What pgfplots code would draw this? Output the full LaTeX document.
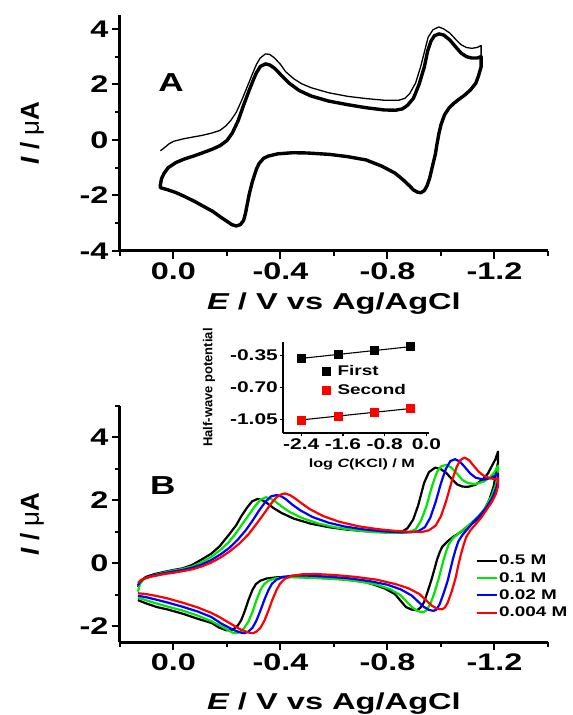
\documentclass[border=0pt]{standalone}
\usepackage{fontspec}
\setmainfont{Liberation Sans}[FakeStretch=1.35]
\newfontfamily\plainsans{Liberation Sans}
\usepackage{graphicx}
\usepackage{pgfplots}
\pgfplotsset{compat=1.18}
\definecolor{cvgreen}{RGB}{0,230,0}
\definecolor{cvblue}{RGB}{0,0,255}
\definecolor{cvred}{RGB}{255,0,0}
\newcommand{\tickfont}{\fontsize{24}{24}\selectfont\bfseries}
\newcommand{\elabel}{\scalebox{1.05}[1]{\fontsize{23}{23}\selectfont\bfseries{\itshape E} / V vs Ag/AgCl}}
\newcommand{\ilabel}{\plainsans\fontsize{26}{26}\selectfont\bfseries{\itshape I} / {\mdseries μ}A}

\pgfplotsset{cvaxis/.style={
  scale only axis, width=428pt, height=236pt,
  x dir=reverse, xmin=-1.4, xmax=0.2,
  axis lines=left, axis line style={-, line width=3pt},
  enlargelimits=false,
  tick align=outside,
  major tick length=8pt, minor tick length=5pt,
  tick style={black, line width=2pt},
  xtick={0,-0.4,-0.8,-1.2}, xticklabels={0.0,-0.4,-0.8,-1.2},
  minor xtick={0.2,-0.2,-0.6,-1,-1.4},
  tick label style={font=\tickfont},
  xlabel={\elabel}, ylabel={\ilabel},
  ylabel style={at={(axis description cs:-0.206,0.5)}, anchor=center, rotate=0},
  line join=round,
}}

\begin{document}
\begin{tikzpicture}
\path[use as bounding box] (0pt,0pt) rectangle (573pt,715pt);

% ---------------- panel A ----------------
\begin{axis}[cvaxis, at={(120pt,464pt)}, anchor=south west,
  ymin=-4, ymax=4.5,
  ytick={-4,-2,0,2,4}, yticklabels={-4,-2,0,2,4},
  minor ytick={-3,-1,1,3},
  xlabel style={at={(axis description cs:0.5,-0.25)}, anchor=base},
]
% later cycles (bold bundle)
\addplot[black, line width=3.4pt] coordinates {
(0.049,-1.62) (0.045,-1.4) (0.035,-1.2) (0.02,-1.0) (-0.01,-0.81) (-0.04,-0.69) (-0.078,-0.57)
(-0.11,-0.46) (-0.146,-0.33) (-0.175,-0.2) (-0.2,-0.02) (-0.22,0.25) (-0.242,0.70) (-0.262,1.25)
(-0.283,1.79) (-0.30,2.2) (-0.31,2.42) (-0.325,2.65) (-0.344,2.74) (-0.36,2.7) (-0.378,2.58)
(-0.40,2.36) (-0.433,2.04) (-0.47,1.78) (-0.515,1.58) (-0.58,1.4) (-0.651,1.27) (-0.72,1.16)
(-0.788,1.08) (-0.83,1.07) (-0.856,1.12) (-0.875,1.25) (-0.897,1.5) (-0.918,2.0) (-0.938,2.64)
(-0.95,3.2) (-0.962,3.55) (-0.975,3.75) (-0.992,3.82) (-1.01,3.78) (-1.033,3.6) (-1.055,3.35)
(-1.075,3.13) (-1.095,3.0) (-1.115,2.95) (-1.135,2.95) (-1.15,3.0)
(-1.15,2.64) (-1.14,2.3) (-1.13,2.04) (-1.11,1.8) (-1.088,1.61) (-1.065,1.45) (-1.047,1.31)
(-1.03,1.15) (-1.013,0.9) (-1.0,0.55) (-0.992,0.22) (-0.985,-0.15) (-0.979,-0.51) (-0.968,-0.95)
(-0.958,-1.36) (-0.948,-1.65) (-0.938,-1.82) (-0.925,-1.9) (-0.912,-1.88) (-0.897,-1.8)
(-0.883,-1.66) (-0.86,-1.45) (-0.829,-1.2) (-0.78,-0.95) (-0.72,-0.72) (-0.65,-0.6) (-0.583,-0.52)
(-0.5,-0.47) (-0.446,-0.46) (-0.39,-0.5) (-0.355,-0.58) (-0.337,-0.66) (-0.32,-0.85) (-0.31,-1.05)
(-0.295,-1.5) (-0.283,-1.96) (-0.275,-2.35) (-0.269,-2.65) (-0.262,-2.9) (-0.25,-3.05)
(-0.235,-3.1) (-0.218,-3.05) (-0.2,-2.93) (-0.175,-2.77) (-0.146,-2.57) (-0.11,-2.38)
(-0.078,-2.21) (-0.04,-2.03) (-0.01,-1.9) (0.02,-1.8) (0.049,-1.72) (0.049,-1.62)
};
% first scan (thin)
\addplot[black, line width=1.3pt] coordinates {
(0.049,-0.39) (0.03,-0.25) (0.018,-0.15) (0.0,-0.05) (-0.037,0.04) (-0.07,0.1) (-0.105,0.16)
(-0.14,0.24) (-0.173,0.34) (-0.195,0.5) (-0.214,0.70) (-0.235,1.0) (-0.255,1.43) (-0.275,1.9)
(-0.296,2.4) (-0.31,2.72) (-0.324,2.95) (-0.344,3.1) (-0.36,3.08) (-0.378,2.95) (-0.40,2.72)
(-0.419,2.46) (-0.45,2.2) (-0.48,2.02) (-0.515,1.88) (-0.58,1.7) (-0.651,1.57) (-0.72,1.49)
(-0.788,1.43) (-0.842,1.43) (-0.865,1.5) (-0.883,1.67) (-0.905,2.05) (-0.924,2.64) (-0.94,3.25)
(-0.952,3.7) (-0.97,3.97) (-0.992,4.07) (-1.01,4.0) (-1.033,3.85) (-1.055,3.62) (-1.075,3.43)
(-1.095,3.33) (-1.115,3.3) (-1.135,3.33) (-1.15,3.4) (-1.15,2.64)
};
\node[font=\fontsize{26}{26}\selectfont\bfseries] at (axis description cs:0.119,0.712) {A};
\end{axis}

% ---------------- panel B ----------------
\begin{axis}[cvaxis, at={(120pt,73pt)}, anchor=south west,
  ymin=-2.5, ymax=5,
  ytick={-2,0,2,4}, yticklabels={-2,0,2,4},
  minor ytick={-1,1,3,5},
  xlabel style={at={(axis description cs:0.5,-0.285)}, anchor=base},
  legend style={at={(axis description cs:0.83,0.375)}, anchor=north west, draw=none, fill=none,
    font=\fontsize{14}{14}\selectfont\bfseries, row sep=3pt, inner sep=0pt,
    nodes={inner sep=1.5pt}},
  legend cell align=left,
  legend image code/.code={\draw[#1] (0pt,0pt) -- (20pt,0pt);},
]
\addplot[black, line width=2.2pt] coordinates {
(0.133,-0.75) (0.12,-0.55) (0.103,-0.43) (0.07,-0.34) (0.034,-0.27) (0.0,-0.21) (-0.034,-0.16)
(-0.07,-0.05) (-0.103,0.11) (-0.14,0.3) (-0.171,0.53) (-0.195,0.78) (-0.212,0.96) (-0.235,1.22)
(-0.253,1.49) (-0.275,1.77) (-0.294,1.97) (-0.315,2.05) (-0.333,2.0) (-0.349,1.92) (-0.375,1.75)
(-0.404,1.6) (-0.45,1.42) (-0.513,1.26) (-0.58,1.15) (-0.65,1.07) (-0.72,1.02) (-0.787,0.99)
(-0.83,0.99) (-0.855,1.01) (-0.875,1.12) (-0.896,1.39) (-0.915,1.85) (-0.937,2.56) (-0.955,2.9)
(-0.978,3.04) (-0.998,3.0) (-1.019,2.88) (-1.04,2.68) (-1.06,2.51) (-1.08,2.44) (-1.101,2.43)
(-1.13,2.5) (-1.156,2.67) (-1.175,2.85) (-1.19,3.09) (-1.203,3.3) (-1.213,3.55)
(-1.213,3.2) (-1.205,2.85) (-1.197,2.45) (-1.18,2.0) (-1.156,1.6) (-1.13,1.35) (-1.101,1.17)
(-1.075,1.0) (-1.047,0.85) (-1.025,0.7) (-1.005,0.53) (-0.995,0.35) (-0.985,0.11) (-0.975,-0.2)
(-0.964,-0.53) (-0.95,-0.9) (-0.937,-1.23) (-0.922,-1.42) (-0.91,-1.49) (-0.89,-1.47)
(-0.869,-1.39) (-0.85,-1.2) (-0.828,-0.98) (-0.79,-0.8) (-0.75,-0.68) (-0.718,-0.6) (-0.65,-0.52)
(-0.581,-0.48) (-0.5,-0.45) (-0.445,-0.43) (-0.39,-0.44) (-0.349,-0.48) (-0.325,-0.55)
(-0.308,-0.66) (-0.295,-0.85) (-0.28,-1.17) (-0.265,-1.55) (-0.253,-1.81) (-0.24,-1.98)
(-0.226,-2.08) (-0.21,-2.13) (-0.198,-2.13) (-0.17,-2.04) (-0.144,-1.9) (-0.09,-1.76)
(-0.034,-1.6) (0.02,-1.47) (0.062,-1.39) (0.1,-1.28) (0.133,-1.17)
};
\addlegendentry{0.5 M}
\addplot[cvgreen, line width=2.2pt] coordinates {
(0.133,-0.9) (0.125,-0.65) (0.11,-0.5) (0.07,-0.37) (0.034,-0.29) (0.0,-0.23) (-0.034,-0.18)
(-0.07,-0.1) (-0.105,0.03) (-0.14,0.2) (-0.175,0.42) (-0.205,0.66) (-0.23,0.92) (-0.255,1.22)
(-0.28,1.52) (-0.305,1.82) (-0.325,2.02) (-0.346,2.1) (-0.365,2.05) (-0.38,1.97) (-0.405,1.8)
(-0.435,1.63) (-0.48,1.44) (-0.54,1.27) (-0.6,1.15) (-0.67,1.06) (-0.74,1.0) (-0.8,0.97)
(-0.855,0.97) (-0.88,0.99) (-0.905,1.08) (-0.925,1.35) (-0.945,1.8) (-0.968,2.5) (-0.985,2.9)
(-1.0,3.08) (-1.019,3.13) (-1.038,3.05) (-1.06,2.85) (-1.08,2.65) (-1.1,2.55) (-1.13,2.52)
(-1.16,2.6) (-1.185,2.75) (-1.2,2.9) (-1.213,3.1)
(-1.213,2.8) (-1.205,2.5) (-1.19,2.15) (-1.165,1.75) (-1.14,1.5) (-1.115,1.3) (-1.09,1.12)
(-1.065,0.95) (-1.045,0.8) (-1.03,0.62) (-1.02,0.4) (-1.01,0.12) (-1.0,-0.2) (-0.99,-0.53)
(-0.975,-0.95) (-0.96,-1.3) (-0.945,-1.5) (-0.933,-1.56) (-0.915,-1.52) (-0.895,-1.42)
(-0.875,-1.25) (-0.85,-1.02) (-0.81,-0.82) (-0.76,-0.68) (-0.7,-0.58) (-0.63,-0.51) (-0.55,-0.47)
(-0.47,-0.44) (-0.42,-0.44) (-0.38,-0.48) (-0.355,-0.55) (-0.338,-0.67) (-0.325,-0.85)
(-0.31,-1.17) (-0.295,-1.55) (-0.28,-1.85) (-0.265,-2.05) (-0.25,-2.17) (-0.235,-2.22)
(-0.22,-2.2) (-0.19,-2.05) (-0.14,-1.83) (-0.09,-1.66) (-0.034,-1.5) (0.02,-1.38) (0.062,-1.28)
(0.1,-1.18) (0.133,-1.09)
};
\addlegendentry{0.1 M}
\addplot[cvblue, line width=2.2pt] coordinates {
(0.133,-0.7) (0.125,-0.58) (0.11,-0.48) (0.07,-0.38) (0.034,-0.31) (0.0,-0.26) (-0.034,-0.21)
(-0.07,-0.14) (-0.105,-0.04) (-0.14,0.1) (-0.175,0.28) (-0.21,0.5) (-0.24,0.75) (-0.27,1.05)
(-0.295,1.35) (-0.32,1.68) (-0.345,1.97) (-0.365,2.13) (-0.387,2.17) (-0.405,2.12) (-0.42,2.04)
(-0.445,1.86) (-0.475,1.68) (-0.52,1.47) (-0.58,1.29) (-0.64,1.17) (-0.71,1.08) (-0.78,1.02)
(-0.84,0.99) (-0.89,0.99) (-0.915,1.02) (-0.94,1.15) (-0.96,1.45) (-0.98,1.95) (-1.0,2.55)
(-1.018,3.0) (-1.035,3.25) (-1.053,3.31) (-1.072,3.22) (-1.09,3.05) (-1.11,2.85) (-1.13,2.72)
(-1.16,2.66) (-1.19,2.72) (-1.213,2.85)
(-1.213,2.6) (-1.205,2.35) (-1.19,2.05) (-1.17,1.78) (-1.145,1.52) (-1.12,1.3) (-1.1,1.1)
(-1.08,0.9) (-1.065,0.7) (-1.055,0.45) (-1.045,0.15) (-1.035,-0.2) (-1.025,-0.55) (-1.01,-0.95)
(-0.995,-1.3) (-0.983,-1.47) (-0.972,-1.51) (-0.955,-1.48) (-0.935,-1.38) (-0.915,-1.22)
(-0.89,-1.02) (-0.85,-0.83) (-0.8,-0.68) (-0.73,-0.56) (-0.65,-0.47) (-0.57,-0.42) (-0.5,-0.39)
(-0.45,-0.39) (-0.41,-0.43) (-0.385,-0.52) (-0.368,-0.65) (-0.355,-0.85) (-0.34,-1.15)
(-0.325,-1.5) (-0.31,-1.82) (-0.295,-2.05) (-0.28,-2.17) (-0.265,-2.22) (-0.25,-2.2)
(-0.22,-2.1) (-0.18,-1.92) (-0.14,-1.7) (-0.09,-1.53) (-0.034,-1.38) (0.02,-1.25) (0.062,-1.16)
(0.1,-1.08) (0.133,-1.03)
};
\addlegendentry{0.02 M}
\addplot[cvred, line width=2.2pt] coordinates {
(0.133,-0.62) (0.12,-0.52) (0.1,-0.45) (0.07,-0.4) (0.034,-0.34) (0.0,-0.3) (-0.034,-0.25)
(-0.07,-0.19) (-0.105,-0.1) (-0.14,0.02) (-0.175,0.18) (-0.21,0.38) (-0.245,0.62) (-0.28,0.92)
(-0.31,1.25) (-0.34,1.6) (-0.365,1.9) (-0.385,2.1) (-0.405,2.2) (-0.417,2.22) (-0.435,2.17)
(-0.455,2.06) (-0.48,1.9) (-0.51,1.72) (-0.56,1.5) (-0.62,1.32) (-0.69,1.18) (-0.76,1.09)
(-0.83,1.03) (-0.89,1.0) (-0.93,1.0) (-0.955,1.05) (-0.98,1.2) (-1.0,1.5) (-1.02,2.0) (-1.04,2.6)
(-1.058,3.05) (-1.072,3.28) (-1.088,3.36) (-1.105,3.28) (-1.12,3.12) (-1.14,2.92) (-1.16,2.78)
(-1.185,2.7) (-1.2,2.68) (-1.213,2.7)
(-1.213,2.45) (-1.205,2.2) (-1.19,1.95) (-1.17,1.7) (-1.15,1.45) (-1.13,1.25) (-1.11,1.05)
(-1.095,0.85) (-1.085,0.6) (-1.075,0.3) (-1.065,-0.05) (-1.055,-0.45) (-1.04,-0.9) (-1.025,-1.25)
(-1.013,-1.42) (-1.003,-1.46) (-0.985,-1.44) (-0.965,-1.34) (-0.945,-1.18) (-0.92,-0.98)
(-0.88,-0.8) (-0.83,-0.66) (-0.76,-0.52) (-0.68,-0.43) (-0.6,-0.37) (-0.53,-0.34) (-0.48,-0.35)
(-0.44,-0.4) (-0.415,-0.5) (-0.398,-0.65) (-0.385,-0.85) (-0.37,-1.15) (-0.355,-1.5) (-0.34,-1.82)
(-0.325,-2.05) (-0.31,-2.17) (-0.298,-2.22) (-0.28,-2.2) (-0.25,-2.1) (-0.21,-1.9) (-0.17,-1.7)
(-0.14,-1.57) (-0.09,-1.4) (-0.034,-1.25) (0.02,-1.12) (0.062,-1.04) (0.1,-0.98) (0.133,-0.95)
};
\addlegendentry{0.004 M}
\node[font=\fontsize{26}{26}\selectfont\bfseries] at (axis description cs:0.1,0.665) {B};
\end{axis}

% ---------------- inset ----------------
\begin{axis}[at={(283pt,282pt)}, anchor=south west,
  scale only axis, width=146pt, height=91pt,
  xmin=-2.75, xmax=0.05, ymin=-1.2, ymax=-0.2,
  axis lines=left, axis line style={-, line width=1.5pt},
  enlargelimits=false, tick align=outside,
  major tick length=3.5pt, tick style={black, line width=1.2pt},
  xtick={-2.4,-1.6,-0.8,0}, xticklabels={-2.4,-1.6,-0.8,0.0},
  ytick={-1.05,-0.7,-0.35}, yticklabels={-1.05,-0.70,-0.35},
  tick label style={font=\fontsize{15.5}{15.5}\selectfont\bfseries, inner sep=1.5pt},
  xlabel={\fontsize{12}{12}\selectfont\bfseries log {\itshape C}(KCl) / M},
  xlabel style={at={(axis description cs:0.54,-0.38)}, anchor=base},
  ylabel={\plainsans\fontsize{13}{13}\selectfont\bfseries Half-wave potential},
  ylabel style={at={(axis description cs:-0.507,0.5)}, anchor=center},
  legend style={at={(axis description cs:0.27,0.77)}, anchor=north west, draw=none, fill=none,
    font=\fontsize{14}{14}\selectfont\bfseries, row sep=4pt, column sep=5pt, inner sep=0pt},
  legend cell align=left,
]
\addplot[black, line width=1.1pt, forget plot] coordinates {(-2.398,-0.380) (-0.301,-0.251)};
\addplot[black, line width=1.1pt, forget plot] coordinates {(-2.398,-1.056) (-0.301,-0.931)};
\addplot[only marks, mark=square*, mark size=4pt, black] coordinates {
(-2.398,-0.380) (-1.699,-0.336) (-1.0,-0.295) (-0.301,-0.250)};
\addlegendentry{First}
\addplot[only marks, mark=square*, mark size=4pt, cvred] coordinates {
(-2.398,-1.054) (-1.699,-1.017) (-1.0,-0.974) (-0.301,-0.933)};
\addlegendentry{Second}
\end{axis}
\end{tikzpicture}
\end{document}
